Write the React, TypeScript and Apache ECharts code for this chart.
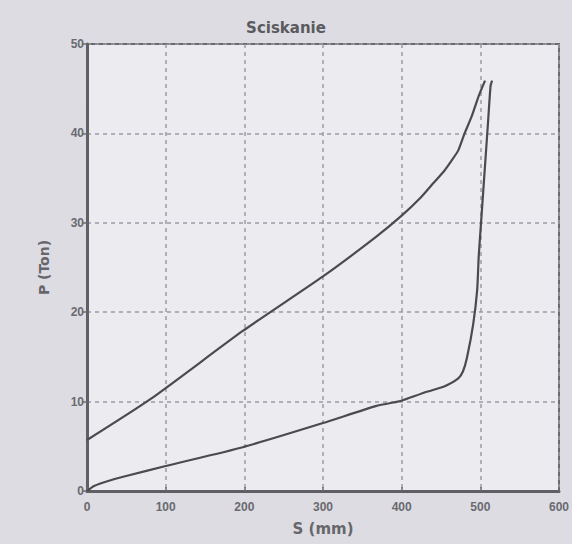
import React, { useEffect, useRef } from "react";
import * as echarts from "echarts";

const TITLE = "Sciskanie";
const X_NAME = "S (mm)";
const Y_NAME = "P (Ton)";

// loading branch (lower curve, then steep right branch)
const S_LOAD = [0, 9, 30, 51, 100, 198, 300, 367, 395, 400, 432, 454, 472, 478, 483, 491, 496, 498, 501, 504, 507, 510, 513, 515];
const P_LOAD = [0, 0.56, 1.2, 1.7, 2.8, 4.9, 7.6, 9.5, 10.0, 10.1, 11.1, 11.7, 12.6, 13.4, 14.9, 18.7, 22.5, 26.3, 30.1, 33.9, 37.7, 41.5, 45.3, 45.9];

// unloading branch (upper curve)
const S_UNLOAD = [506, 498, 489, 480, 472, 463, 454, 441, 424, 400, 367, 300, 198, 81, 0];
const P_UNLOAD = [45.9, 44.2, 41.9, 40.0, 38.1, 36.9, 35.8, 34.5, 32.8, 30.8, 28.4, 24.0, 17.9, 10.3, 5.7];

const X_MIN = 0, X_MAX = 600, X_STEP = 100;
const Y_MIN = 0, Y_MAX = 50, Y_STEP = 10;

export default function App() {
  const ref = useRef<HTMLDivElement>(null);

  useEffect(() => {
    document.body.style.margin = "0";
    if (!ref.current) return;
    const chart = echarts.init(ref.current, null, { renderer: "svg" });
    const load = S_LOAD.map((s, i) => [s, P_LOAD[i]]);
    const unload = S_UNLOAD.map((s, i) => [s, P_UNLOAD[i]]);
    const lineColor = "#4a4a4f";
    chart.setOption({
      animation: false,
      backgroundColor: "#dcdce2",
      title: {
        text: TITLE,
        left: "center",
        top: 15,
        textStyle: { fontFamily: "DejaVu Sans", fontWeight: "bold", fontSize: 15, color: "#5a5a5f" },
      },
      grid: {
        left: 87,
        right: 9,
        top: 44,
        bottom: 53,
        show: true,
        backgroundColor: "#ececf0",
        borderColor: "#6a6a70",
        borderWidth: 2,
      },
      xAxis: {
        type: "value",
        min: X_MIN,
        max: X_MAX,
        interval: X_STEP,
        name: X_NAME,
        nameLocation: "middle",
        nameGap: 30,
        nameTextStyle: { fontFamily: "DejaVu Sans", fontWeight: "bold", fontSize: 15, color: "#66666b" },
        axisLine: { show: true, lineStyle: { color: "#5f5f64", width: 3 } },
        axisTick: { show: true, inside: true, length: 4, lineStyle: { color: "#6a6a70", width: 1.5 } },
        axisLabel: { margin: 10, fontFamily: "Liberation Sans", fontWeight: "bold", fontSize: 12, color: "#6a6a70" },
        splitLine: { show: true, lineStyle: { color: "#9a9aa2", width: 1.5, type: [4, 4] } },
      },
      yAxis: {
        type: "value",
        min: Y_MIN,
        max: Y_MAX,
        interval: Y_STEP,
        name: Y_NAME,
        nameLocation: "middle",
        nameGap: 36,
        nameRotate: 90,
        nameTextStyle: { fontFamily: "DejaVu Sans", fontWeight: "bold", fontSize: 14, color: "#66666b" },
        axisLine: { show: true, lineStyle: { color: "#5f5f64", width: 3 } },
        axisTick: { show: true, inside: false, length: 5, lineStyle: { color: "#6a6a70", width: 1.5 } },
        axisLabel: { margin: 3, fontFamily: "Liberation Sans", fontWeight: "bold", fontSize: 12, color: "#6a6a70" },
        splitLine: { show: true, lineStyle: { color: "#9a9aa2", width: 1.5, type: [4, 4] } },
      },
      series: [
        {
          type: "line",
          name: "load",
          data: load,
          showSymbol: false,
          smooth: 0.2,
          lineStyle: { color: lineColor, width: 2.2 },
        },
        {
          type: "line",
          name: "unload",
          data: unload,
          showSymbol: false,
          smooth: 0.2,
          lineStyle: { color: lineColor, width: 2.2 },
        },
      ],
    });
    return () => chart.dispose();
  }, []);

  return <div ref={ref} style={{ width: 572, height: 544 }} />;
}
